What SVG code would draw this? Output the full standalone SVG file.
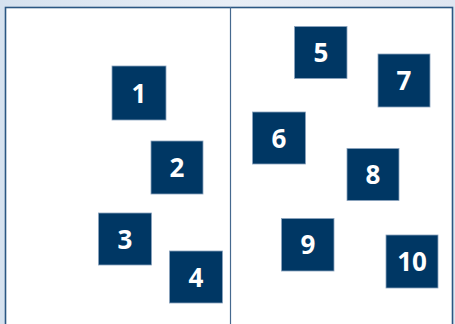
<svg xmlns="http://www.w3.org/2000/svg" width="455" height="324" viewBox="0 0 455 324">
<style>
.box{fill:#003764;stroke:#8aa3bd;stroke-width:0.8}
.lbl{fill:#ffffff;font-family:"Open Sans","Liberation Sans",sans-serif;font-weight:bold;font-size:26px;text-anchor:middle}
</style>
<defs>
<linearGradient id="bg" x1="0" y1="0" x2="1" y2="0">
<stop offset="0" stop-color="#d6e2ef"/>
<stop offset="0.5" stop-color="#e8eef6"/>
<stop offset="1" stop-color="#dfe6f1"/>
</linearGradient>
</defs>
<rect x="0" y="0" width="455" height="324" fill="url(#bg)"/>
<rect x="5.5" y="7.5" width="447" height="330" fill="#ffffff" stroke="#2b5782" stroke-width="1.6"/>
<g id="connectors">
<line x1="230.5" y1="7" x2="230.5" y2="324" stroke="#46698f" stroke-width="1.2"/>
</g>
<g id="n1"><rect class="box" x="112" y="66" width="54" height="54"/><text class="lbl" x="139" y="103">1</text></g>
<g id="n2"><rect class="box" x="151" y="141" width="52" height="53"/><text class="lbl" x="177" y="177">2</text></g>
<g id="n3"><rect class="box" x="98.5" y="213" width="53" height="52"/><text class="lbl" x="125" y="249">3</text></g>
<g id="n4"><rect class="box" x="169.5" y="251" width="53" height="52"/><text class="lbl" x="196" y="287">4</text></g>
<g id="n5"><rect class="box" x="294.5" y="26.5" width="52.5" height="52"/><text class="lbl" x="321" y="62">5</text></g>
<g id="n6"><rect class="box" x="252.5" y="112" width="53" height="52"/><text class="lbl" x="279" y="148">6</text></g>
<g id="n7"><rect class="box" x="378" y="54" width="52" height="53"/><text class="lbl" x="404" y="90">7</text></g>
<g id="n8"><rect class="box" x="347" y="148.5" width="52" height="52"/><text class="lbl" x="373" y="184">8</text></g>
<g id="n9"><rect class="box" x="281.5" y="218.5" width="52.5" height="52.5"/><text class="lbl" x="308" y="254">9</text></g>
<g id="n10"><rect class="box" x="386" y="235" width="52" height="53"/><text class="lbl" x="412" y="271">10</text></g>
</svg>
